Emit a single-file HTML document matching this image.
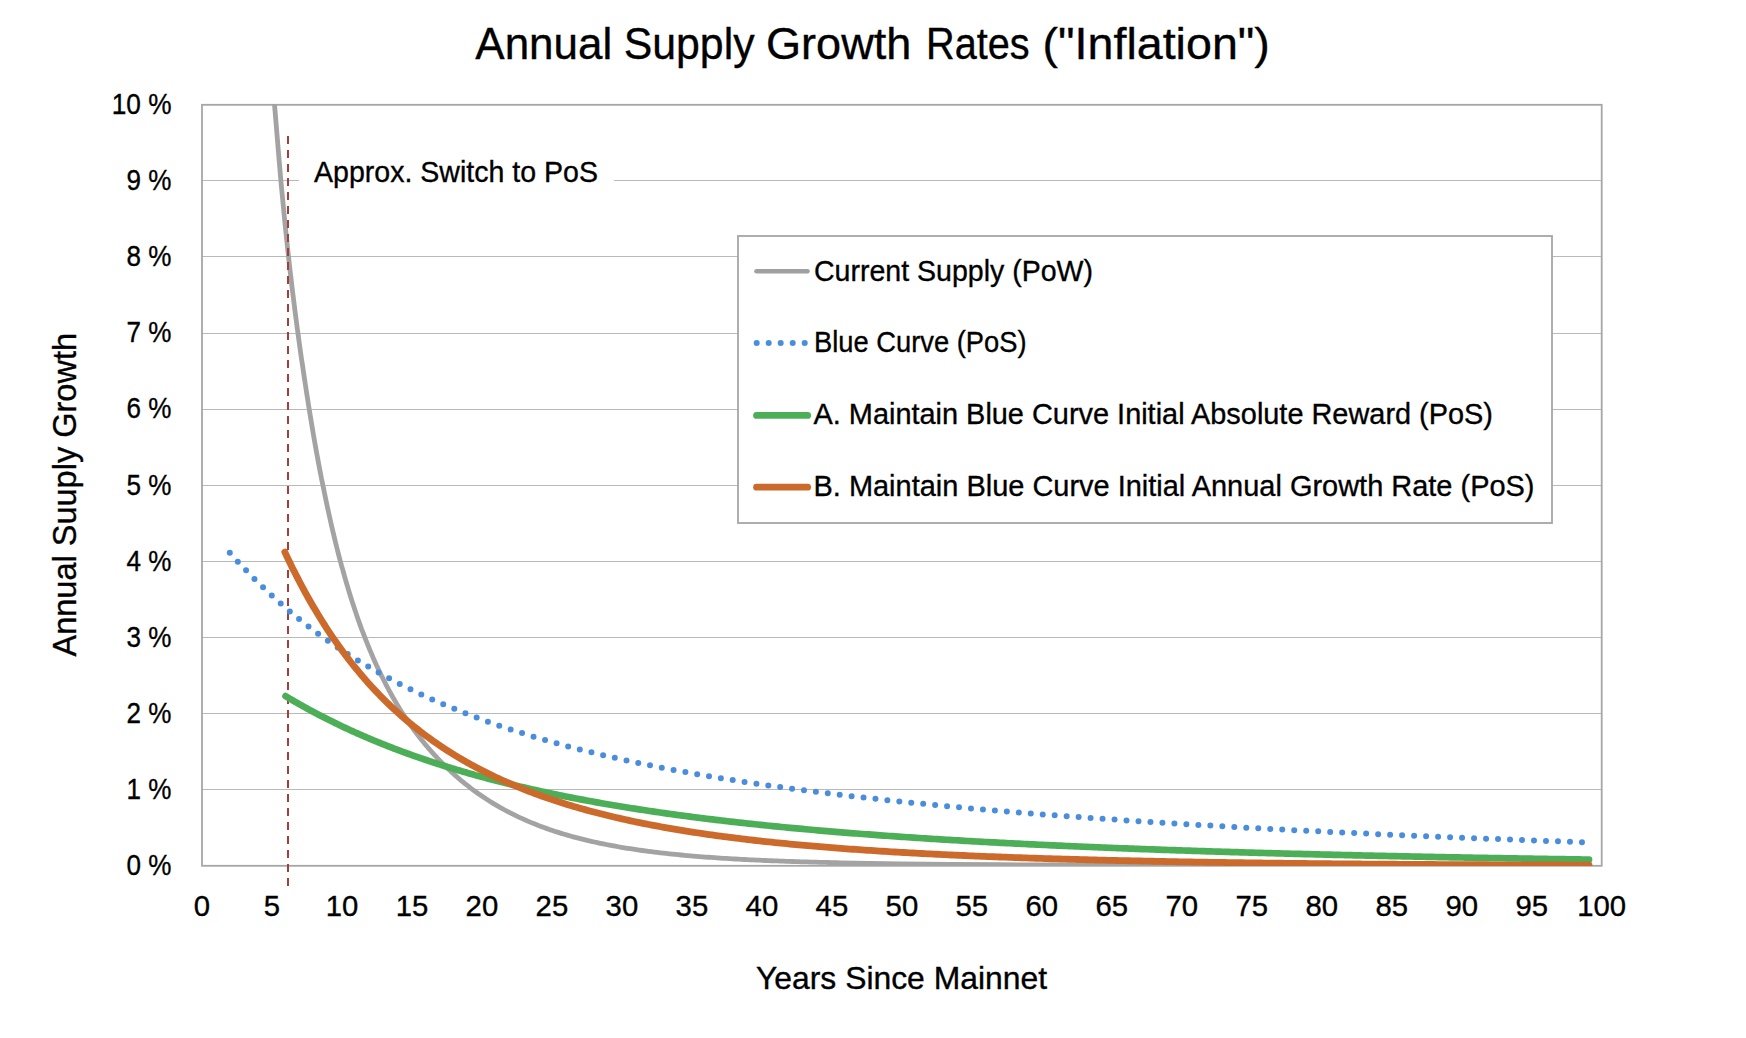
<!DOCTYPE html>
<html><head><meta charset="utf-8"><style>
html,body{margin:0;padding:0;background:#fff;width:1746px;height:1038px;overflow:hidden;position:relative}
</style></head><body>
<svg width="1746" height="1038" viewBox="0 0 1746 1038" style="position:absolute;left:0;top:0"><defs><clipPath id="pa"><rect x="202" y="104" width="1400" height="762"/></clipPath></defs><rect x="0" y="0" width="1746" height="1038" fill="#fff"/><line x1="202.0" y1="789.5" x2="1601.7" y2="789.5" stroke="#b9b9b9" stroke-width="1"/><line x1="202.0" y1="713.5" x2="1601.7" y2="713.5" stroke="#b9b9b9" stroke-width="1"/><line x1="202.0" y1="637.5" x2="1601.7" y2="637.5" stroke="#b9b9b9" stroke-width="1"/><line x1="202.0" y1="561.5" x2="1601.7" y2="561.5" stroke="#b9b9b9" stroke-width="1"/><line x1="202.0" y1="485.5" x2="1601.7" y2="485.5" stroke="#b9b9b9" stroke-width="1"/><line x1="202.0" y1="409.5" x2="1601.7" y2="409.5" stroke="#b9b9b9" stroke-width="1"/><line x1="202.0" y1="333.5" x2="1601.7" y2="333.5" stroke="#b9b9b9" stroke-width="1"/><line x1="202.0" y1="256.5" x2="1601.7" y2="256.5" stroke="#b9b9b9" stroke-width="1"/><line x1="202.0" y1="180.5" x2="1601.7" y2="180.5" stroke="#b9b9b9" stroke-width="1"/><rect x="299" y="150" width="315" height="46" fill="#fff"/><rect x="202.0" y="104.8" width="1399.7" height="761.0" fill="none" stroke="#a6a6a6" stroke-width="1.8"/><g clip-path="url(#pa)" fill="none" stroke-linejoin="round"><path d="M272.3,79.45 L273.3,90.56 L274.3,102.13 L275.3,114.01 L276.3,126.08 L277.3,138.23 L278.3,150.33 L279.3,162.30 L280.3,174.02 L281.3,185.41 L282.4,196.43 L283.4,207.09 L284.4,217.41 L285.4,227.41 L286.4,237.12 L287.4,246.55 L288.4,255.73 L289.4,264.66 L290.4,273.37 L291.4,281.87 L292.4,290.18 L293.4,298.30 L294.4,306.27 L295.4,314.07 L296.4,321.74 L297.4,329.27 L298.4,336.69 L299.4,343.99 L300.4,351.18 L301.4,358.26 L302.5,365.23 L303.5,372.09 L304.5,378.84 L305.5,385.49 L306.5,392.03 L307.5,398.47 L308.5,404.81 L309.5,411.05 L310.5,417.19 L311.5,423.23 L312.5,429.18 L313.5,435.03 L314.5,440.80 L315.5,446.47 L316.5,452.05 L317.5,457.54 L318.5,462.95 L319.5,468.27 L320.5,473.50 L321.5,478.66 L322.6,483.73 L323.6,488.72 L324.6,493.62 L325.6,498.46 L326.6,503.21 L327.6,507.89 L328.6,512.49 L329.6,517.02 L330.6,521.47 L331.6,525.86 L332.6,530.17 L333.6,534.41 L334.6,538.59 L335.6,542.70 L336.6,546.74 L337.6,550.72 L338.6,554.63 L339.6,558.48 L340.6,562.26 L341.6,565.99 L342.7,569.65 L343.7,573.26 L344.7,576.81 L345.7,580.30 L346.7,583.74 L347.7,587.12 L348.7,590.45 L349.7,593.73 L350.7,596.95 L351.7,600.13 L352.7,603.26 L353.7,606.34 L354.7,609.37 L355.7,612.36 L356.7,615.30 L357.7,618.20 L358.7,621.05 L359.7,623.86 L360.7,626.63 L361.7,629.36 L362.8,632.05 L363.8,634.70 L364.8,637.31 L365.8,639.88 L366.8,642.41 L367.8,644.91 L368.8,647.37 L369.8,649.80 L370.8,652.19 L371.8,654.55 L372.8,656.88 L373.8,659.17 L374.8,661.44 L375.8,663.67 L376.8,665.87 L377.8,668.04 L378.8,670.18 L379.8,672.29 L380.8,674.37 L381.8,676.42 L382.9,678.45 L383.9,680.45 L384.9,682.42 L385.9,684.37 L386.9,686.29 L387.9,688.19 L388.9,690.06 L389.9,691.91 L390.9,693.73 L391.9,695.53 L392.9,697.31 L393.9,699.06 L394.9,700.80 L395.9,702.51 L396.9,704.20 L397.9,705.86 L398.9,707.51 L399.9,709.14 L400.9,710.75 L401.9,712.34 L403.0,713.90 L404.0,715.45 L405.0,716.99 L406.0,718.50 L407.0,719.99 L408.0,721.47 L409.0,722.93 L410.0,724.37 L411.0,725.80 L412.0,727.21 L413.0,728.60 L414.0,729.98 L415.0,731.34 L416.0,732.69 L417.0,734.02 L418.0,735.34 L419.0,736.64 L420.0,737.92 L421.0,739.20 L422.0,740.46 L423.1,741.70 L424.1,742.93 L425.1,744.15 L426.1,745.35 L427.1,746.55 L428.1,747.73 L429.1,748.89 L430.1,750.05 L431.1,751.19 L432.1,752.32 L433.1,753.44 L434.1,754.54 L435.1,755.64 L436.1,756.72 L437.1,757.80 L438.1,758.86 L439.1,759.91 L440.1,760.95 L441.1,761.98 L442.1,763.00 L443.2,764.01 L444.2,765.01 L445.2,766.00 L446.2,766.98 L447.2,767.95 L448.2,768.91 L449.2,769.87 L450.2,770.81 L451.2,771.74 L452.2,772.66 L453.2,773.58 L454.2,774.48 L455.2,775.38 L456.2,776.26 L457.2,777.14 L458.2,778.01 L459.2,778.87 L460.2,779.72 L461.2,780.56 L462.2,781.40 L463.3,782.22 L464.3,783.04 L465.3,783.85 L466.3,784.65 L467.3,785.44 L468.3,786.23 L469.3,787.01 L470.3,787.78 L471.3,788.54 L472.3,789.30 L474.3,790.77 L477.3,792.94 L480.3,795.04 L483.3,797.08 L486.3,799.06 L489.3,800.97 L492.3,802.84 L495.3,804.65 L498.3,806.40 L501.3,808.10 L504.3,809.76 L507.3,811.36 L510.3,812.92 L513.3,814.43 L516.3,815.89 L519.3,817.31 L522.3,818.69 L525.3,820.04 L528.3,821.34 L531.3,822.60 L534.3,823.82 L537.3,825.01 L540.3,826.17 L543.3,827.29 L546.3,828.37 L549.3,829.43 L552.3,830.45 L555.3,831.45 L558.3,832.41 L561.3,833.35 L564.3,834.26 L567.3,835.14 L570.3,836.00 L573.3,836.83 L576.3,837.64 L579.3,838.42 L582.3,839.18 L585.3,839.92 L588.3,840.64 L591.3,841.33 L594.3,842.01 L597.3,842.67 L600.3,843.30 L603.3,843.92 L606.3,844.52 L609.3,845.10 L612.3,845.67 L615.3,846.22 L618.3,846.75 L621.3,847.27 L624.3,847.78 L627.3,848.26 L630.3,848.74 L633.3,849.20 L636.3,849.65 L639.3,850.08 L642.3,850.50 L645.3,850.91 L648.3,851.31 L651.3,851.70 L654.3,852.07 L657.3,852.44 L660.3,852.79 L663.3,853.13 L666.3,853.47 L669.3,853.79 L672.3,854.11 L675.3,854.41 L678.3,854.71 L681.3,855.00 L684.3,855.28 L687.3,855.55 L690.3,855.82 L693.3,856.08 L696.3,856.33 L699.3,856.57 L702.3,856.80 L705.3,857.03 L708.3,857.26 L711.3,857.47 L714.3,857.68 L717.3,857.89 L720.3,858.09 L723.3,858.28 L726.3,858.47 L729.3,858.65 L732.3,858.83 L735.3,859.00 L738.3,859.17 L741.3,859.33 L744.3,859.49 L747.3,859.64 L750.3,859.79 L753.3,859.94 L756.3,860.08 L759.3,860.22 L762.3,860.35 L765.3,860.48 L768.3,860.61 L771.3,860.73 L774.3,860.85 L777.3,860.96 L780.3,861.08 L783.3,861.19 L786.3,861.29 L789.3,861.40 L792.3,861.50 L795.3,861.60 L798.3,861.69 L801.3,861.78 L804.3,861.88 L807.3,861.96 L810.3,862.05 L813.3,862.13 L816.3,862.21 L819.3,862.29 L822.3,862.37 L825.3,862.44 L828.3,862.52 L831.3,862.59 L834.3,862.65 L837.3,862.72 L840.0,862.78 L900,864.00 L950,864.44 L1000,864.74 L1050,864.94 L1100,865.09 L1150,865.18 L1200,865.25 L1250,865.30 L1300,865.33 L1350,865.35 L1400,865.37 L1450,865.38 L1500,865.38 L1550,865.39 L1590,865.39" stroke="#a3a3a3" stroke-width="4.8" stroke-linecap="round"/></g><line x1="288" y1="136" x2="288" y2="886" stroke="#a83c38" stroke-width="2" stroke-dasharray="8 6"/><g clip-path="url(#pa)" fill="none" stroke-linejoin="round"><path d="M229.8,552.72 L230.8,553.85 L231.8,554.98 L232.8,556.10 L233.8,557.22 L234.8,558.33 L235.8,559.44 L236.8,560.54 L237.8,561.63 L238.8,562.72 L239.9,563.80 L240.9,564.88 L241.9,565.95 L242.9,567.02 L243.9,568.08 L244.9,569.14 L245.9,570.19 L246.9,571.23 L247.9,572.27 L248.9,573.31 L249.9,574.34 L250.9,575.36 L251.9,576.38 L252.9,577.40 L253.9,578.41 L254.9,579.41 L255.9,580.41 L256.9,581.40 L257.9,582.39 L258.9,583.38 L260.0,584.36 L261.0,585.33 L262.0,586.30 L263.0,587.27 L264.0,588.23 L265.0,589.19 L266.0,590.14 L267.0,591.08 L268.0,592.03 L269.0,592.96 L270.0,593.90 L271.0,594.82 L272.0,595.75 L273.0,596.67 L274.0,597.58 L275.0,598.49 L276.0,599.40 L277.0,600.30 L278.0,601.20 L279.0,602.09 L280.1,602.98 L281.1,603.86 L282.1,604.74 L283.1,605.62 L284.1,606.49 L285.1,607.35 L286.1,608.22 L287.1,609.08 L288.1,609.93 L289.1,610.78 L290.1,611.63 L291.1,612.47 L292.1,613.31 L293.1,614.14 L294.1,614.97 L295.1,615.80 L296.1,616.62 L297.1,617.44 L298.1,618.25 L299.1,619.06 L300.2,619.87 L301.2,620.67 L302.2,621.47 L303.2,622.27 L304.2,623.06 L305.2,623.85 L306.2,624.63 L307.2,625.41 L308.2,626.19 L309.2,626.96 L310.2,627.73 L311.2,628.50 L312.2,629.26 L313.2,630.02 L314.2,630.78 L315.2,631.53 L316.2,632.28 L317.2,633.02 L318.2,633.76 L319.2,634.50 L320.3,635.23 L321.3,635.96 L322.3,636.69 L323.3,637.42 L324.3,638.14 L325.3,638.85 L326.3,639.57 L327.3,640.28 L328.3,640.99 L329.3,641.69 L330.3,642.39 L331.3,643.09 L332.3,643.78 L333.3,644.47 L334.3,645.16 L335.3,645.85 L336.3,646.53 L337.3,647.21 L338.3,647.88 L339.3,648.56 L340.4,649.23 L341.4,649.89 L342.4,650.56 L343.4,651.22 L344.4,651.87 L345.4,652.53 L346.4,653.18 L347.4,653.83 L348.4,654.47 L349.4,655.12 L350.4,655.76 L351.4,656.39 L352.4,657.03 L353.4,657.66 L354.4,658.29 L355.4,658.91 L356.4,659.54 L357.4,660.16 L358.4,660.77 L359.4,661.39 L360.5,662.00 L361.5,662.61 L362.5,663.21 L363.5,663.82 L364.5,664.42 L365.5,665.02 L366.5,665.61 L367.5,666.20 L368.5,666.79 L369.5,667.38 L370.5,667.97 L371.5,668.55 L372.5,669.13 L373.5,669.71 L374.5,670.28 L375.5,670.85 L376.5,671.42 L377.5,671.99 L378.5,672.56 L379.5,673.12 L380.6,673.68 L381.6,674.23 L382.6,674.79 L383.6,675.34 L384.6,675.89 L385.6,676.44 L386.6,676.99 L387.6,677.53 L388.6,678.07 L389.6,678.61 L390.6,679.14 L391.6,679.68 L392.6,680.21 L393.6,680.74 L394.6,681.26 L395.6,681.79 L396.6,682.31 L397.6,682.83 L398.6,683.35 L399.6,683.86 L400.7,684.38 L401.7,684.89 L402.7,685.40 L403.7,685.90 L404.7,686.41 L405.7,686.91 L406.7,687.41 L407.7,687.91 L408.7,688.40 L409.7,688.90 L410.7,689.39 L411.7,689.88 L412.7,690.37 L413.7,690.85 L414.7,691.34 L415.7,691.82 L416.7,692.30 L417.7,692.77 L418.7,693.25 L419.7,693.72 L420.8,694.20 L421.8,694.66 L422.8,695.13 L423.8,695.60 L424.8,696.06 L425.8,696.52 L426.8,696.98 L427.8,697.44 L428.8,697.90 L429.8,698.35 L431.8,699.25 L434.8,700.58 L437.8,701.90 L440.8,703.20 L443.8,704.48 L446.8,705.75 L449.8,707.01 L452.8,708.25 L455.8,709.47 L458.8,710.68 L461.8,711.87 L464.8,713.05 L467.8,714.22 L470.8,715.37 L473.8,716.51 L476.8,717.64 L479.8,718.75 L482.8,719.85 L485.8,720.93 L488.8,722.01 L491.8,723.07 L494.8,724.12 L497.8,725.16 L500.8,726.18 L503.8,727.19 L506.8,728.20 L509.8,729.19 L512.8,730.17 L515.8,731.13 L518.8,732.09 L521.8,733.04 L524.8,733.98 L527.8,734.90 L530.8,735.82 L533.8,736.72 L536.8,737.62 L539.8,738.50 L542.8,739.38 L545.8,740.25 L548.8,741.10 L551.8,741.95 L554.8,742.79 L557.8,743.62 L560.8,744.44 L563.8,745.25 L566.8,746.06 L569.8,746.85 L572.8,747.64 L575.8,748.42 L578.8,749.19 L581.8,749.95 L584.8,750.70 L587.8,751.45 L590.8,752.19 L593.8,752.92 L596.8,753.64 L599.8,754.36 L602.8,755.07 L605.8,755.77 L608.8,756.47 L611.8,757.16 L614.8,757.84 L617.8,758.51 L620.8,759.18 L623.8,759.84 L626.8,760.49 L629.8,761.14 L632.8,761.78 L635.8,762.42 L638.8,763.05 L641.8,763.67 L644.8,764.29 L647.8,764.90 L650.8,765.51 L653.8,766.11 L656.8,766.70 L659.8,767.29 L662.8,767.88 L665.8,768.45 L668.8,769.03 L671.8,769.59 L674.8,770.16 L677.8,770.71 L680.8,771.26 L683.8,771.81 L686.8,772.35 L689.8,772.89 L692.8,773.42 L695.8,773.95 L698.8,774.47 L701.8,774.99 L704.8,775.50 L707.8,776.01 L710.8,776.52 L713.8,777.02 L716.8,777.52 L719.8,778.01 L722.8,778.49 L725.8,778.98 L728.8,779.46 L731.8,779.93 L734.8,780.40 L737.8,780.87 L740.8,781.34 L743.8,781.80 L746.8,782.25 L749.8,782.70 L752.8,783.15 L755.8,783.60 L758.8,784.04 L761.8,784.48 L764.8,784.91 L767.8,785.34 L770.8,785.77 L773.8,786.19 L776.8,786.62 L779.8,787.03 L782.8,787.45 L785.8,787.86 L788.8,788.27 L791.8,788.67 L794.8,789.07 L797.8,789.47 L800.8,789.87 L803.8,790.26 L806.8,790.65 L809.8,791.04 L812.8,791.43 L815.8,791.81 L818.8,792.19 L821.8,792.56 L824.8,792.94 L827.8,793.31 L830.8,793.68 L833.8,794.04 L836.8,794.41 L839.8,794.77 L842.8,795.13 L845.8,795.48 L848.8,795.83 L851.8,796.19 L854.8,796.53 L857.8,796.88 L860.8,797.22 L863.8,797.57 L866.8,797.91 L869.8,798.24 L872.8,798.58 L875.8,798.91 L878.8,799.24 L881.8,799.57 L884.8,799.89 L887.8,800.22 L890.8,800.54 L893.8,800.86 L896.8,801.17 L899.8,801.49 L902.8,801.80 L905.8,802.11 L908.8,802.42 L911.8,802.73 L914.8,803.03 L917.8,803.34 L920.8,803.64 L923.8,803.93 L926.8,804.23 L929.8,804.53 L932.8,804.82 L935.8,805.11 L938.8,805.40 L941.8,805.69 L944.8,805.97 L947.8,806.26 L950.8,806.54 L953.8,806.82 L956.8,807.10 L959.8,807.38 L962.8,807.65 L965.8,807.92 L968.8,808.20 L971.8,808.47 L974.8,808.73 L977.8,809.00 L980.8,809.27 L983.8,809.53 L986.8,809.79 L989.8,810.05 L992.8,810.31 L995.8,810.57 L998.8,810.82 L1001.8,811.08 L1004.8,811.33 L1007.8,811.58 L1010.8,811.83 L1013.8,812.08 L1016.8,812.32 L1019.8,812.57 L1022.8,812.81 L1025.8,813.05 L1028.8,813.29 L1031.8,813.53 L1034.8,813.77 L1037.8,814.01 L1040.8,814.24 L1043.8,814.47 L1046.8,814.71 L1049.8,814.94 L1052.8,815.17 L1055.8,815.40 L1058.8,815.62 L1061.8,815.85 L1064.8,816.07 L1067.8,816.30 L1070.8,816.52 L1073.8,816.74 L1076.8,816.96 L1079.8,817.18 L1082.8,817.39 L1085.8,817.61 L1088.8,817.82 L1091.8,818.04 L1094.8,818.25 L1097.8,818.46 L1100.8,818.67 L1103.8,818.88 L1106.8,819.09 L1109.8,819.29 L1112.8,819.50 L1115.8,819.70 L1118.8,819.90 L1121.8,820.11 L1124.8,820.31 L1127.8,820.51 L1130.8,820.71 L1133.8,820.90 L1136.8,821.10 L1139.8,821.30 L1142.8,821.49 L1145.8,821.68 L1148.8,821.88 L1151.8,822.07 L1154.8,822.26 L1157.8,822.45 L1160.8,822.64 L1163.8,822.82 L1166.8,823.01 L1169.8,823.20 L1172.8,823.38 L1175.8,823.57 L1178.8,823.75 L1181.8,823.93 L1184.8,824.11 L1187.8,824.29 L1190.8,824.47 L1193.8,824.65 L1196.8,824.83 L1199.8,825.00 L1202.8,825.18 L1205.8,825.35 L1208.8,825.53 L1211.8,825.70 L1214.8,825.87 L1217.8,826.04 L1220.8,826.21 L1223.8,826.38 L1226.8,826.55 L1229.8,826.72 L1232.8,826.89 L1235.8,827.06 L1238.8,827.22 L1241.8,827.39 L1244.8,827.55 L1247.8,827.71 L1250.8,827.88 L1253.8,828.04 L1256.8,828.20 L1259.8,828.36 L1262.8,828.52 L1265.8,828.68 L1268.8,828.84 L1271.8,828.99 L1274.8,829.15 L1277.8,829.31 L1280.8,829.46 L1283.8,829.62 L1286.8,829.77 L1289.8,829.92 L1292.8,830.07 L1295.8,830.23 L1298.8,830.38 L1301.8,830.53 L1304.8,830.68 L1307.8,830.83 L1310.8,830.97 L1313.8,831.12 L1316.8,831.27 L1319.8,831.42 L1322.8,831.56 L1325.8,831.71 L1328.8,831.85 L1331.8,832.00 L1334.8,832.14 L1337.8,832.28 L1340.8,832.42 L1343.8,832.57 L1346.8,832.71 L1349.8,832.85 L1352.8,832.99 L1355.8,833.12 L1358.8,833.26 L1361.8,833.40 L1364.8,833.54 L1367.8,833.68 L1370.8,833.81 L1373.8,833.95 L1376.8,834.08 L1379.8,834.22 L1382.8,834.35 L1385.8,834.48 L1388.8,834.62 L1391.8,834.75 L1394.8,834.88 L1397.8,835.01 L1400.8,835.14 L1403.8,835.27 L1406.8,835.40 L1409.8,835.53 L1412.8,835.66 L1415.8,835.79 L1418.8,835.92 L1421.8,836.04 L1424.8,836.17 L1427.8,836.30 L1430.8,836.42 L1433.8,836.55 L1436.8,836.67 L1439.8,836.80 L1442.8,836.92 L1445.8,837.04 L1448.8,837.17 L1451.8,837.29 L1454.8,837.41 L1457.8,837.53 L1460.8,837.65 L1463.8,837.77 L1466.8,837.89 L1469.8,838.01 L1472.8,838.13 L1475.8,838.25 L1478.8,838.37 L1481.8,838.48 L1484.8,838.60 L1487.8,838.72 L1490.8,838.84 L1493.8,838.95 L1496.8,839.07 L1499.8,839.18 L1502.8,839.30 L1505.8,839.41 L1508.8,839.52 L1511.8,839.64 L1514.8,839.75 L1517.8,839.86 L1520.8,839.98 L1523.8,840.09 L1526.8,840.20 L1529.8,840.31 L1532.8,840.42 L1535.8,840.53 L1538.8,840.64 L1541.8,840.75 L1544.8,840.86 L1547.8,840.97 L1550.8,841.08 L1553.8,841.18 L1556.8,841.29 L1559.8,841.40 L1562.8,841.51 L1565.8,841.61 L1568.8,841.72 L1571.8,841.82 L1574.8,841.93 L1577.8,842.03 L1580.8,842.14 L1583.0,842.22" stroke="#4a8ddc" stroke-width="6" stroke-linecap="round" stroke-dasharray="0 12"/><path d="M285.5,696.10 L286.5,696.70 L287.5,697.31 L288.5,697.90 L289.5,698.50 L290.5,699.09 L291.5,699.69 L292.5,700.27 L293.5,700.86 L294.5,701.44 L295.6,702.02 L296.6,702.60 L297.6,703.18 L298.6,703.75 L299.6,704.32 L300.6,704.89 L301.6,705.46 L302.6,706.02 L303.6,706.58 L304.6,707.14 L305.6,707.70 L306.6,708.25 L307.6,708.80 L308.6,709.35 L309.6,709.90 L310.6,710.44 L311.6,710.99 L312.6,711.52 L313.6,712.06 L314.6,712.60 L315.7,713.13 L316.7,713.66 L317.7,714.19 L318.7,714.72 L319.7,715.24 L320.7,715.76 L321.7,716.28 L322.7,716.80 L323.7,717.31 L324.7,717.83 L325.7,718.34 L326.7,718.85 L327.7,719.35 L328.7,719.86 L329.7,720.36 L330.7,720.86 L331.7,721.36 L332.7,721.85 L333.7,722.35 L334.7,722.84 L335.8,723.33 L336.8,723.82 L337.8,724.30 L338.8,724.78 L339.8,725.27 L340.8,725.74 L341.8,726.22 L342.8,726.70 L343.8,727.17 L344.8,727.64 L345.8,728.11 L346.8,728.58 L347.8,729.04 L348.8,729.51 L349.8,729.97 L350.8,730.43 L351.8,730.89 L352.8,731.34 L353.8,731.80 L354.8,732.25 L355.9,732.70 L356.9,733.15 L357.9,733.60 L358.9,734.04 L359.9,734.48 L360.9,734.92 L361.9,735.36 L362.9,735.80 L363.9,736.24 L364.9,736.67 L365.9,737.10 L366.9,737.53 L367.9,737.96 L368.9,738.39 L369.9,738.81 L370.9,739.24 L371.9,739.66 L372.9,740.08 L373.9,740.49 L374.9,740.91 L376.0,741.33 L377.0,741.74 L378.0,742.15 L379.0,742.56 L380.0,742.97 L381.0,743.37 L382.0,743.78 L383.0,744.18 L384.0,744.58 L385.0,744.98 L386.0,745.38 L387.0,745.78 L388.0,746.17 L389.0,746.56 L390.0,746.96 L391.0,747.35 L392.0,747.73 L393.0,748.12 L394.0,748.51 L395.0,748.89 L396.1,749.27 L397.1,749.65 L398.1,750.03 L399.1,750.41 L400.1,750.79 L401.1,751.16 L402.1,751.53 L403.1,751.91 L404.1,752.28 L405.1,752.64 L406.1,753.01 L407.1,753.38 L408.1,753.74 L409.1,754.10 L410.1,754.47 L411.1,754.83 L412.1,755.18 L413.1,755.54 L414.1,755.90 L415.1,756.25 L416.2,756.60 L417.2,756.95 L418.2,757.30 L419.2,757.65 L420.2,758.00 L421.2,758.35 L422.2,758.69 L423.2,759.03 L424.2,759.38 L425.2,759.72 L426.2,760.05 L427.2,760.39 L428.2,760.73 L429.2,761.06 L430.2,761.40 L431.2,761.73 L432.2,762.06 L433.2,762.39 L434.2,762.72 L435.2,763.05 L436.3,763.37 L437.3,763.70 L438.3,764.02 L439.3,764.34 L440.3,764.66 L441.3,764.98 L442.3,765.30 L443.3,765.62 L444.3,765.93 L445.3,766.25 L446.3,766.56 L447.3,766.87 L448.3,767.18 L449.3,767.49 L450.3,767.80 L451.3,768.11 L452.3,768.42 L453.3,768.72 L454.3,769.03 L455.3,769.33 L456.4,769.63 L457.4,769.93 L458.4,770.23 L459.4,770.53 L460.4,770.82 L461.4,771.12 L462.4,771.41 L463.4,771.71 L464.4,772.00 L465.4,772.29 L466.4,772.58 L467.4,772.87 L468.4,773.16 L469.4,773.44 L470.4,773.73 L471.4,774.01 L472.4,774.30 L473.4,774.58 L474.4,774.86 L475.4,775.14 L476.5,775.42 L477.5,775.70 L478.5,775.98 L479.5,776.25 L480.5,776.53 L481.5,776.80 L482.5,777.07 L483.5,777.34 L484.5,777.62 L485.5,777.88 L487.5,778.42 L490.5,779.21 L493.5,780.00 L496.5,780.77 L499.5,781.54 L502.5,782.30 L505.5,783.05 L508.5,783.79 L511.5,784.52 L514.5,785.24 L517.5,785.96 L520.5,786.67 L523.5,787.37 L526.5,788.07 L529.5,788.75 L532.5,789.43 L535.5,790.10 L538.5,790.77 L541.5,791.42 L544.5,792.07 L547.5,792.71 L550.5,793.35 L553.5,793.98 L556.5,794.60 L559.5,795.22 L562.5,795.82 L565.5,796.43 L568.5,797.02 L571.5,797.61 L574.5,798.20 L577.5,798.77 L580.5,799.34 L583.5,799.91 L586.5,800.47 L589.5,801.02 L592.5,801.57 L595.5,802.11 L598.5,802.65 L601.5,803.18 L604.5,803.70 L607.5,804.22 L610.5,804.73 L613.5,805.24 L616.5,805.75 L619.5,806.25 L622.5,806.74 L625.5,807.23 L628.5,807.71 L631.5,808.19 L634.5,808.66 L637.5,809.13 L640.5,809.59 L643.5,810.05 L646.5,810.51 L649.5,810.96 L652.5,811.40 L655.5,811.84 L658.5,812.28 L661.5,812.71 L664.5,813.14 L667.5,813.57 L670.5,813.98 L673.5,814.40 L676.5,814.81 L679.5,815.22 L682.5,815.62 L685.5,816.02 L688.5,816.42 L691.5,816.81 L694.5,817.20 L697.5,817.58 L700.5,817.96 L703.5,818.34 L706.5,818.71 L709.5,819.08 L712.5,819.44 L715.5,819.81 L718.5,820.17 L721.5,820.52 L724.5,820.87 L727.5,821.22 L730.5,821.57 L733.5,821.91 L736.5,822.25 L739.5,822.58 L742.5,822.92 L745.5,823.24 L748.5,823.57 L751.5,823.89 L754.5,824.21 L757.5,824.53 L760.5,824.85 L763.5,825.16 L766.5,825.47 L769.5,825.77 L772.5,826.07 L775.5,826.37 L778.5,826.67 L781.5,826.97 L784.5,827.26 L787.5,827.55 L790.5,827.83 L793.5,828.12 L796.5,828.40 L799.5,828.68 L802.5,828.95 L805.5,829.23 L808.5,829.50 L811.5,829.77 L814.5,830.03 L817.5,830.30 L820.5,830.56 L823.5,830.82 L826.5,831.08 L829.5,831.33 L832.5,831.58 L835.5,831.83 L838.5,832.08 L841.5,832.33 L844.5,832.57 L847.5,832.81 L850.5,833.05 L853.5,833.29 L856.5,833.53 L859.5,833.76 L862.5,833.99 L865.5,834.22 L868.5,834.45 L871.5,834.67 L874.5,834.90 L877.5,835.12 L880.5,835.34 L883.5,835.56 L886.5,835.77 L889.5,835.99 L892.5,836.20 L895.5,836.41 L898.5,836.62 L901.5,836.83 L904.5,837.03 L907.5,837.24 L910.5,837.44 L913.5,837.64 L916.5,837.84 L919.5,838.03 L922.5,838.23 L925.5,838.42 L928.5,838.62 L931.5,838.81 L934.5,839.00 L937.5,839.18 L940.5,839.37 L943.5,839.55 L946.5,839.74 L949.5,839.92 L952.5,840.10 L955.5,840.28 L958.5,840.45 L961.5,840.63 L964.5,840.80 L967.5,840.98 L970.5,841.15 L973.5,841.32 L976.5,841.49 L979.5,841.65 L982.5,841.82 L985.5,841.99 L988.5,842.15 L991.5,842.31 L994.5,842.47 L997.5,842.63 L1000.5,842.79 L1003.5,842.95 L1006.5,843.10 L1009.5,843.26 L1012.5,843.41 L1015.5,843.56 L1018.5,843.72 L1021.5,843.87 L1024.5,844.01 L1027.5,844.16 L1030.5,844.31 L1033.5,844.45 L1036.5,844.60 L1039.5,844.74 L1042.5,844.88 L1045.5,845.02 L1048.5,845.16 L1051.5,845.30 L1054.5,845.44 L1057.5,845.58 L1060.5,845.71 L1063.5,845.85 L1066.5,845.98 L1069.5,846.12 L1072.5,846.25 L1075.5,846.38 L1078.5,846.51 L1081.5,846.64 L1084.5,846.77 L1087.5,846.89 L1090.5,847.02 L1093.5,847.14 L1096.5,847.27 L1099.5,847.39 L1102.5,847.51 L1105.5,847.64 L1108.5,847.76 L1111.5,847.88 L1114.5,848.00 L1117.5,848.11 L1120.5,848.23 L1123.5,848.35 L1126.5,848.46 L1129.5,848.58 L1132.5,848.69 L1135.5,848.80 L1138.5,848.92 L1141.5,849.03 L1144.5,849.14 L1147.5,849.25 L1150.5,849.36 L1153.5,849.47 L1156.5,849.57 L1159.5,849.68 L1162.5,849.79 L1165.5,849.89 L1168.5,850.00 L1171.5,850.10 L1174.5,850.20 L1177.5,850.31 L1180.5,850.41 L1183.5,850.51 L1186.5,850.61 L1189.5,850.71 L1192.5,850.81 L1195.5,850.91 L1198.5,851.01 L1201.5,851.10 L1204.5,851.20 L1207.5,851.29 L1210.5,851.39 L1213.5,851.48 L1216.5,851.58 L1219.5,851.67 L1222.5,851.76 L1225.5,851.85 L1228.5,851.95 L1231.5,852.04 L1234.5,852.13 L1237.5,852.22 L1240.5,852.30 L1243.5,852.39 L1246.5,852.48 L1249.5,852.57 L1252.5,852.65 L1255.5,852.74 L1258.5,852.83 L1261.5,852.91 L1264.5,852.99 L1267.5,853.08 L1270.5,853.16 L1273.5,853.24 L1276.5,853.33 L1279.5,853.41 L1282.5,853.49 L1285.5,853.57 L1288.5,853.65 L1291.5,853.73 L1294.5,853.81 L1297.5,853.89 L1300.5,853.96 L1303.5,854.04 L1306.5,854.12 L1309.5,854.19 L1312.5,854.27 L1315.5,854.34 L1318.5,854.42 L1321.5,854.49 L1324.5,854.57 L1327.5,854.64 L1330.5,854.71 L1333.5,854.79 L1336.5,854.86 L1339.5,854.93 L1342.5,855.00 L1345.5,855.07 L1348.5,855.14 L1351.5,855.21 L1354.5,855.28 L1357.5,855.35 L1360.5,855.42 L1363.5,855.49 L1366.5,855.55 L1369.5,855.62 L1372.5,855.69 L1375.5,855.76 L1378.5,855.82 L1381.5,855.89 L1384.5,855.95 L1387.5,856.02 L1390.5,856.08 L1393.5,856.15 L1396.5,856.21 L1399.5,856.27 L1402.5,856.33 L1405.5,856.40 L1408.5,856.46 L1411.5,856.52 L1414.5,856.58 L1417.5,856.64 L1420.5,856.70 L1423.5,856.76 L1426.5,856.82 L1429.5,856.88 L1432.5,856.94 L1435.5,857.00 L1438.5,857.06 L1441.5,857.12 L1444.5,857.17 L1447.5,857.23 L1450.5,857.29 L1453.5,857.34 L1456.5,857.40 L1459.5,857.46 L1462.5,857.51 L1465.5,857.57 L1468.5,857.62 L1471.5,857.68 L1474.5,857.73 L1477.5,857.78 L1480.5,857.84 L1483.5,857.89 L1486.5,857.94 L1489.5,858.00 L1492.5,858.05 L1495.5,858.10 L1498.5,858.15 L1501.5,858.20 L1504.5,858.25 L1507.5,858.30 L1510.5,858.35 L1513.5,858.40 L1516.5,858.45 L1519.5,858.50 L1522.5,858.55 L1525.5,858.60 L1528.5,858.65 L1531.5,858.70 L1534.5,858.75 L1537.5,858.79 L1540.5,858.84 L1543.5,858.89 L1546.5,858.94 L1549.5,858.98 L1552.5,859.03 L1555.5,859.07 L1558.5,859.12 L1561.5,859.17 L1564.5,859.21 L1567.5,859.26 L1570.5,859.30 L1573.5,859.34 L1576.5,859.39 L1579.5,859.43 L1582.5,859.48 L1585.5,859.52 L1588.5,859.56 L1589.0,859.57" stroke="#4caf57" stroke-width="6.7" stroke-linecap="round"/><path d="M284.8,551.97 L285.8,554.12 L286.8,556.25 L287.8,558.37 L288.8,560.47 L289.8,562.55 L290.8,564.61 L291.8,566.66 L292.8,568.69 L293.8,570.70 L294.9,572.70 L295.9,574.68 L296.9,576.65 L297.9,578.60 L298.9,580.53 L299.9,582.45 L300.9,584.35 L301.9,586.23 L302.9,588.10 L303.9,589.96 L304.9,591.80 L305.9,593.63 L306.9,595.44 L307.9,597.24 L308.9,599.02 L309.9,600.79 L310.9,602.54 L311.9,604.28 L312.9,606.01 L313.9,607.72 L315.0,609.42 L316.0,611.10 L317.0,612.78 L318.0,614.43 L319.0,616.08 L320.0,617.71 L321.0,619.33 L322.0,620.94 L323.0,622.53 L324.0,624.12 L325.0,625.68 L326.0,627.24 L327.0,628.79 L328.0,630.32 L329.0,631.84 L330.0,633.35 L331.0,634.85 L332.0,636.33 L333.0,637.81 L334.0,639.27 L335.1,640.72 L336.1,642.16 L337.1,643.59 L338.1,645.01 L339.1,646.41 L340.1,647.81 L341.1,649.19 L342.1,650.57 L343.1,651.93 L344.1,653.29 L345.1,654.63 L346.1,655.96 L347.1,657.29 L348.1,658.60 L349.1,659.90 L350.1,661.20 L351.1,662.48 L352.1,663.75 L353.1,665.02 L354.1,666.27 L355.2,667.52 L356.2,668.75 L357.2,669.98 L358.2,671.19 L359.2,672.40 L360.2,673.60 L361.2,674.79 L362.2,675.97 L363.2,677.14 L364.2,678.31 L365.2,679.46 L366.2,680.61 L367.2,681.75 L368.2,682.88 L369.2,684.00 L370.2,685.11 L371.2,686.21 L372.2,687.31 L373.2,688.40 L374.2,689.48 L375.3,690.55 L376.3,691.61 L377.3,692.67 L378.3,693.72 L379.3,694.76 L380.3,695.79 L381.3,696.82 L382.3,697.84 L383.3,698.85 L384.3,699.85 L385.3,700.85 L386.3,701.84 L387.3,702.82 L388.3,703.80 L389.3,704.77 L390.3,705.73 L391.3,706.68 L392.3,707.63 L393.3,708.57 L394.3,709.50 L395.4,710.43 L396.4,711.35 L397.4,712.26 L398.4,713.17 L399.4,714.07 L400.4,714.97 L401.4,715.86 L402.4,716.74 L403.4,717.61 L404.4,718.48 L405.4,719.35 L406.4,720.20 L407.4,721.05 L408.4,721.90 L409.4,722.74 L410.4,723.57 L411.4,724.40 L412.4,725.22 L413.4,726.04 L414.4,726.85 L415.5,727.65 L416.5,728.45 L417.5,729.25 L418.5,730.03 L419.5,730.82 L420.5,731.59 L421.5,732.37 L422.5,733.13 L423.5,733.89 L424.5,734.65 L425.5,735.40 L426.5,736.15 L427.5,736.89 L428.5,737.62 L429.5,738.35 L430.5,739.08 L431.5,739.80 L432.5,740.52 L433.5,741.23 L434.5,741.93 L435.6,742.63 L436.6,743.33 L437.6,744.02 L438.6,744.71 L439.6,745.39 L440.6,746.07 L441.6,746.74 L442.6,747.41 L443.6,748.08 L444.6,748.74 L445.6,749.39 L446.6,750.04 L447.6,750.69 L448.6,751.33 L449.6,751.97 L450.6,752.60 L451.6,753.23 L452.6,753.86 L453.6,754.48 L454.6,755.10 L455.7,755.71 L456.7,756.32 L457.7,756.92 L458.7,757.53 L459.7,758.12 L460.7,758.72 L461.7,759.30 L462.7,759.89 L463.7,760.47 L464.7,761.05 L465.7,761.62 L466.7,762.19 L467.7,762.76 L468.7,763.32 L469.7,763.88 L470.7,764.44 L471.7,764.99 L472.7,765.54 L473.7,766.09 L474.7,766.63 L475.8,767.17 L476.8,767.70 L477.8,768.23 L478.8,768.76 L479.8,769.28 L480.8,769.80 L481.8,770.32 L482.8,770.84 L483.8,771.35 L484.8,771.86 L486.8,772.86 L489.8,774.34 L492.8,775.79 L495.8,777.21 L498.8,778.61 L501.8,779.98 L504.8,781.33 L507.8,782.65 L510.8,783.94 L513.8,785.22 L516.8,786.47 L519.8,787.70 L522.8,788.90 L525.8,790.09 L528.8,791.25 L531.8,792.39 L534.8,793.52 L537.8,794.62 L540.8,795.70 L543.8,796.77 L546.8,797.81 L549.8,798.84 L552.8,799.85 L555.8,800.84 L558.8,801.81 L561.8,802.77 L564.8,803.71 L567.8,804.63 L570.8,805.54 L573.8,806.44 L576.8,807.31 L579.8,808.18 L582.8,809.02 L585.8,809.86 L588.8,810.68 L591.8,811.48 L594.8,812.27 L597.8,813.05 L600.8,813.82 L603.8,814.57 L606.8,815.31 L609.8,816.04 L612.8,816.76 L615.8,817.46 L618.8,818.16 L621.8,818.84 L624.8,819.51 L627.8,820.17 L630.8,820.82 L633.8,821.46 L636.8,822.08 L639.8,822.70 L642.8,823.31 L645.8,823.91 L648.8,824.50 L651.8,825.08 L654.8,825.65 L657.8,826.21 L660.8,826.76 L663.8,827.30 L666.8,827.84 L669.8,828.37 L672.8,828.88 L675.8,829.39 L678.8,829.90 L681.8,830.39 L684.8,830.88 L687.8,831.36 L690.8,831.83 L693.8,832.29 L696.8,832.75 L699.8,833.20 L702.8,833.65 L705.8,834.08 L708.8,834.51 L711.8,834.94 L714.8,835.36 L717.8,835.77 L720.8,836.17 L723.8,836.57 L726.8,836.97 L729.8,837.35 L732.8,837.73 L735.8,838.11 L738.8,838.48 L741.8,838.85 L744.8,839.21 L747.8,839.56 L750.8,839.91 L753.8,840.25 L756.8,840.59 L759.8,840.93 L762.8,841.26 L765.8,841.58 L768.8,841.90 L771.8,842.22 L774.8,842.53 L777.8,842.83 L780.8,843.14 L783.8,843.43 L786.8,843.73 L789.8,844.02 L792.8,844.30 L795.8,844.58 L798.8,844.86 L801.8,845.13 L804.8,845.40 L807.8,845.67 L810.8,845.93 L813.8,846.19 L816.8,846.45 L819.8,846.70 L822.8,846.95 L825.8,847.19 L828.8,847.43 L831.8,847.67 L834.8,847.90 L837.8,848.13 L840.8,848.36 L843.8,848.59 L846.8,848.81 L849.8,849.03 L852.8,849.25 L855.8,849.46 L858.8,849.67 L861.8,849.88 L864.8,850.08 L867.8,850.28 L870.8,850.48 L873.8,850.68 L876.8,850.87 L879.8,851.07 L882.8,851.25 L885.8,851.44 L888.8,851.63 L891.8,851.81 L894.8,851.99 L897.8,852.16 L900.8,852.34 L903.8,852.51 L906.8,852.68 L909.8,852.85 L912.8,853.01 L915.8,853.18 L918.8,853.34 L921.8,853.50 L924.8,853.65 L927.8,853.81 L930.8,853.96 L933.8,854.11 L936.8,854.26 L939.8,854.41 L942.8,854.56 L945.8,854.70 L948.8,854.84 L951.8,854.98 L954.8,855.12 L957.8,855.26 L960.8,855.39 L963.8,855.52 L966.8,855.65 L969.8,855.78 L972.8,855.91 L975.8,856.04 L978.8,856.16 L981.8,856.29 L984.8,856.41 L987.8,856.53 L990.8,856.65 L993.8,856.76 L996.8,856.88 L999.8,856.99 L1002.8,857.11 L1005.8,857.22 L1008.8,857.33 L1011.8,857.44 L1014.8,857.54 L1017.8,857.65 L1020.8,857.75 L1023.8,857.86 L1026.8,857.96 L1029.8,858.06 L1032.8,858.16 L1035.8,858.26 L1038.8,858.35 L1041.8,858.45 L1044.8,858.54 L1047.8,858.64 L1050.8,858.73 L1053.8,858.82 L1056.8,858.91 L1059.8,859.00 L1062.8,859.09 L1065.8,859.17 L1068.8,859.26 L1071.8,859.34 L1074.8,859.43 L1077.8,859.51 L1080.8,859.59 L1083.8,859.67 L1086.8,859.75 L1089.8,859.83 L1092.8,859.91 L1095.8,859.98 L1098.8,860.06 L1101.8,860.13 L1104.8,860.21 L1107.8,860.28 L1110.8,860.35 L1113.8,860.42 L1116.8,860.49 L1119.8,860.56 L1122.8,860.63 L1125.8,860.70 L1128.8,860.77 L1131.8,860.83 L1134.8,860.90 L1137.8,860.96 L1140.8,861.02 L1143.8,861.09 L1146.8,861.15 L1149.8,861.21 L1152.8,861.27 L1155.8,861.33 L1158.8,861.39 L1161.8,861.45 L1164.8,861.50 L1167.8,861.56 L1170.8,861.62 L1173.8,861.67 L1176.8,861.73 L1179.8,861.78 L1182.8,861.83 L1185.8,861.89 L1188.8,861.94 L1191.8,861.99 L1194.8,862.04 L1197.8,862.09 L1200.8,862.14 L1203.8,862.19 L1206.8,862.24 L1209.8,862.28 L1212.8,862.33 L1215.8,862.38 L1218.8,862.42 L1221.8,862.47 L1224.8,862.51 L1227.8,862.55 L1230.8,862.60 L1233.8,862.64 L1236.8,862.68 L1239.8,862.72 L1242.8,862.77 L1245.8,862.81 L1248.8,862.85 L1251.8,862.89 L1254.8,862.93 L1257.8,862.96 L1260.8,863.00 L1263.8,863.04 L1266.8,863.08 L1269.8,863.11 L1272.8,863.15 L1275.8,863.18 L1278.8,863.22 L1281.8,863.25 L1284.8,863.29 L1287.8,863.32 L1290.8,863.36 L1293.8,863.39 L1296.8,863.42 L1299.8,863.45 L1302.8,863.48 L1305.8,863.51 L1308.8,863.55 L1311.8,863.58 L1314.8,863.61 L1317.8,863.64 L1320.8,863.66 L1323.8,863.69 L1326.8,863.72 L1329.8,863.75 L1332.8,863.78 L1335.8,863.80 L1338.8,863.83 L1341.8,863.86 L1344.8,863.88 L1347.8,863.91 L1350.8,863.93 L1353.8,863.96 L1356.8,863.98 L1359.8,864.01 L1362.8,864.03 L1365.8,864.05 L1368.8,864.08 L1371.8,864.10 L1374.8,864.12 L1377.8,864.14 L1380.8,864.17 L1383.8,864.19 L1386.8,864.21 L1389.8,864.23 L1392.8,864.25 L1395.8,864.27 L1398.8,864.29 L1401.8,864.31 L1404.8,864.33 L1407.8,864.35 L1410.8,864.37 L1413.8,864.39 L1416.8,864.41 L1419.8,864.42 L1422.8,864.44 L1425.8,864.46 L1428.8,864.48 L1431.8,864.49 L1434.8,864.51 L1437.8,864.53 L1440.8,864.54 L1443.8,864.56 L1446.8,864.57 L1449.8,864.59 L1452.8,864.60 L1455.8,864.62 L1458.8,864.63 L1461.8,864.65 L1464.8,864.66 L1467.8,864.68 L1470.8,864.69 L1473.8,864.70 L1476.8,864.72 L1479.8,864.73 L1482.8,864.74 L1485.8,864.76 L1488.8,864.77 L1491.8,864.78 L1494.8,864.79 L1497.8,864.80 L1500.8,864.82 L1503.8,864.83 L1506.8,864.84 L1509.8,864.85 L1512.8,864.86 L1515.8,864.87 L1518.8,864.88 L1521.8,864.89 L1524.8,864.90 L1527.8,864.91 L1530.8,864.92 L1533.8,864.93 L1536.8,864.94 L1539.8,864.95 L1542.8,864.96 L1545.8,864.97 L1548.8,864.98 L1551.8,864.99 L1554.8,865.00 L1557.8,865.01 L1560.8,865.01 L1563.8,865.02 L1566.8,865.03 L1569.8,865.04 L1572.8,865.05 L1575.8,865.05 L1578.8,865.06 L1581.8,865.07 L1584.8,865.08 L1587.8,865.08 L1589.0,865.08" stroke="#cc6a2c" stroke-width="6.8" stroke-linecap="round"/></g><text x="475.3" y="59" font-family='"Liberation Sans", sans-serif' font-size="44.6" text-anchor="start" textLength="137.0" lengthAdjust="spacingAndGlyphs" fill="#000" stroke="#000" stroke-width="0.35" >Annual</text><text x="623.7" y="59" font-family='"Liberation Sans", sans-serif' font-size="44.6" text-anchor="start" textLength="130.9" lengthAdjust="spacingAndGlyphs" fill="#000" stroke="#000" stroke-width="0.35" >Supply</text><text x="766" y="59" font-family='"Liberation Sans", sans-serif' font-size="44.6" text-anchor="start" textLength="145.3" lengthAdjust="spacingAndGlyphs" fill="#000" stroke="#000" stroke-width="0.35" >Growth</text><text x="926" y="59" font-family='"Liberation Sans", sans-serif' font-size="44.6" text-anchor="start" textLength="103.7" lengthAdjust="spacingAndGlyphs" fill="#000" stroke="#000" stroke-width="0.35" >Rates</text><text x="1042.5" y="59" font-family='"Liberation Sans", sans-serif' font-size="44.6" text-anchor="start" textLength="227.4" lengthAdjust="spacingAndGlyphs" fill="#000" stroke="#000" stroke-width="0.35" >(&quot;Inflation&quot;)</text><text x="314" y="182.2" font-family='"Liberation Sans", sans-serif' font-size="30" text-anchor="start" textLength="284" lengthAdjust="spacingAndGlyphs" fill="#000" stroke="#000" stroke-width="0.35" >Approx. Switch to PoS</text><text x="171.5" y="875.1" font-family='"Liberation Sans", sans-serif' font-size="29.3" text-anchor="end" textLength="44.9" lengthAdjust="spacingAndGlyphs" fill="#000" stroke="#000" stroke-width="0.35" >0 %</text><text x="171.5" y="799.0" font-family='"Liberation Sans", sans-serif' font-size="29.3" text-anchor="end" textLength="44.9" lengthAdjust="spacingAndGlyphs" fill="#000" stroke="#000" stroke-width="0.35" >1 %</text><text x="171.5" y="722.9" font-family='"Liberation Sans", sans-serif' font-size="29.3" text-anchor="end" textLength="44.9" lengthAdjust="spacingAndGlyphs" fill="#000" stroke="#000" stroke-width="0.35" >2 %</text><text x="171.5" y="646.7" font-family='"Liberation Sans", sans-serif' font-size="29.3" text-anchor="end" textLength="44.9" lengthAdjust="spacingAndGlyphs" fill="#000" stroke="#000" stroke-width="0.35" >3 %</text><text x="171.5" y="570.6" font-family='"Liberation Sans", sans-serif' font-size="29.3" text-anchor="end" textLength="44.9" lengthAdjust="spacingAndGlyphs" fill="#000" stroke="#000" stroke-width="0.35" >4 %</text><text x="171.5" y="494.5" font-family='"Liberation Sans", sans-serif' font-size="29.3" text-anchor="end" textLength="44.9" lengthAdjust="spacingAndGlyphs" fill="#000" stroke="#000" stroke-width="0.35" >5 %</text><text x="171.5" y="418.3" font-family='"Liberation Sans", sans-serif' font-size="29.3" text-anchor="end" textLength="44.9" lengthAdjust="spacingAndGlyphs" fill="#000" stroke="#000" stroke-width="0.35" >6 %</text><text x="171.5" y="342.2" font-family='"Liberation Sans", sans-serif' font-size="29.3" text-anchor="end" textLength="44.9" lengthAdjust="spacingAndGlyphs" fill="#000" stroke="#000" stroke-width="0.35" >7 %</text><text x="171.5" y="266.1" font-family='"Liberation Sans", sans-serif' font-size="29.3" text-anchor="end" textLength="44.9" lengthAdjust="spacingAndGlyphs" fill="#000" stroke="#000" stroke-width="0.35" >8 %</text><text x="171.5" y="190.0" font-family='"Liberation Sans", sans-serif' font-size="29.3" text-anchor="end" textLength="44.9" lengthAdjust="spacingAndGlyphs" fill="#000" stroke="#000" stroke-width="0.35" >9 %</text><text x="171.5" y="113.8" font-family='"Liberation Sans", sans-serif' font-size="29.3" text-anchor="end" textLength="59.8" lengthAdjust="spacingAndGlyphs" fill="#000" stroke="#000" stroke-width="0.35" >10 %</text><text x="202.0" y="916" font-family='"Liberation Sans", sans-serif' font-size="29.3" text-anchor="middle" fill="#000" stroke="#000" stroke-width="0.35" >0</text><text x="272.0" y="916" font-family='"Liberation Sans", sans-serif' font-size="29.3" text-anchor="middle" fill="#000" stroke="#000" stroke-width="0.35" >5</text><text x="342.0" y="916" font-family='"Liberation Sans", sans-serif' font-size="29.3" text-anchor="middle" fill="#000" stroke="#000" stroke-width="0.35" >10</text><text x="412.0" y="916" font-family='"Liberation Sans", sans-serif' font-size="29.3" text-anchor="middle" fill="#000" stroke="#000" stroke-width="0.35" >15</text><text x="481.9" y="916" font-family='"Liberation Sans", sans-serif' font-size="29.3" text-anchor="middle" fill="#000" stroke="#000" stroke-width="0.35" >20</text><text x="551.9" y="916" font-family='"Liberation Sans", sans-serif' font-size="29.3" text-anchor="middle" fill="#000" stroke="#000" stroke-width="0.35" >25</text><text x="621.9" y="916" font-family='"Liberation Sans", sans-serif' font-size="29.3" text-anchor="middle" fill="#000" stroke="#000" stroke-width="0.35" >30</text><text x="691.9" y="916" font-family='"Liberation Sans", sans-serif' font-size="29.3" text-anchor="middle" fill="#000" stroke="#000" stroke-width="0.35" >35</text><text x="761.9" y="916" font-family='"Liberation Sans", sans-serif' font-size="29.3" text-anchor="middle" fill="#000" stroke="#000" stroke-width="0.35" >40</text><text x="831.9" y="916" font-family='"Liberation Sans", sans-serif' font-size="29.3" text-anchor="middle" fill="#000" stroke="#000" stroke-width="0.35" >45</text><text x="901.9" y="916" font-family='"Liberation Sans", sans-serif' font-size="29.3" text-anchor="middle" fill="#000" stroke="#000" stroke-width="0.35" >50</text><text x="971.8" y="916" font-family='"Liberation Sans", sans-serif' font-size="29.3" text-anchor="middle" fill="#000" stroke="#000" stroke-width="0.35" >55</text><text x="1041.8" y="916" font-family='"Liberation Sans", sans-serif' font-size="29.3" text-anchor="middle" fill="#000" stroke="#000" stroke-width="0.35" >60</text><text x="1111.8" y="916" font-family='"Liberation Sans", sans-serif' font-size="29.3" text-anchor="middle" fill="#000" stroke="#000" stroke-width="0.35" >65</text><text x="1181.8" y="916" font-family='"Liberation Sans", sans-serif' font-size="29.3" text-anchor="middle" fill="#000" stroke="#000" stroke-width="0.35" >70</text><text x="1251.8" y="916" font-family='"Liberation Sans", sans-serif' font-size="29.3" text-anchor="middle" fill="#000" stroke="#000" stroke-width="0.35" >75</text><text x="1321.8" y="916" font-family='"Liberation Sans", sans-serif' font-size="29.3" text-anchor="middle" fill="#000" stroke="#000" stroke-width="0.35" >80</text><text x="1391.7" y="916" font-family='"Liberation Sans", sans-serif' font-size="29.3" text-anchor="middle" fill="#000" stroke="#000" stroke-width="0.35" >85</text><text x="1461.7" y="916" font-family='"Liberation Sans", sans-serif' font-size="29.3" text-anchor="middle" fill="#000" stroke="#000" stroke-width="0.35" >90</text><text x="1531.7" y="916" font-family='"Liberation Sans", sans-serif' font-size="29.3" text-anchor="middle" fill="#000" stroke="#000" stroke-width="0.35" >95</text><text x="1601.7" y="916" font-family='"Liberation Sans", sans-serif' font-size="29.3" text-anchor="middle" fill="#000" stroke="#000" stroke-width="0.35" >100</text><text x="756" y="989" font-family='"Liberation Sans", sans-serif' font-size="31.8" text-anchor="start" textLength="291" lengthAdjust="spacingAndGlyphs" fill="#000" stroke="#000" stroke-width="0.35" >Years Since Mainnet</text><g transform="translate(76,656.5) rotate(-90)"><text x="0" y="0" font-family='"Liberation Sans", sans-serif' font-size="32.5" text-anchor="start" textLength="323.5" lengthAdjust="spacingAndGlyphs" fill="#000" stroke="#000" stroke-width="0.35" >Annual Suuply Growth</text></g><rect x="738" y="236" width="814" height="287" fill="#fff" stroke="#a6a6a6" stroke-width="1.8"/><line x1="756.5" y1="271.3" x2="807.5" y2="271.3" stroke="#a0a0a0" stroke-width="4.6" stroke-linecap="round"/><line x1="756.7" y1="343" x2="806" y2="343" stroke="#4a8ddc" stroke-width="6" stroke-linecap="round" stroke-dasharray="0 12"/><line x1="756.5" y1="415.4" x2="807.7" y2="415.4" stroke="#4caf57" stroke-width="6.7" stroke-linecap="round"/><line x1="756.5" y1="487.2" x2="807.7" y2="487.2" stroke="#cc6a2c" stroke-width="6.7" stroke-linecap="round"/><text x="814" y="280.6" font-family='"Liberation Sans", sans-serif' font-size="30" text-anchor="start" textLength="279" lengthAdjust="spacingAndGlyphs" fill="#000" stroke="#000" stroke-width="0.35" >Current Supply (PoW)</text><text x="814" y="351.9" font-family='"Liberation Sans", sans-serif' font-size="30" text-anchor="start" textLength="212.5" lengthAdjust="spacingAndGlyphs" fill="#000" stroke="#000" stroke-width="0.35" >Blue Curve (PoS)</text><text x="813.5" y="423.7" font-family='"Liberation Sans", sans-serif' font-size="30" text-anchor="start" textLength="679.5" lengthAdjust="spacingAndGlyphs" fill="#000" stroke="#000" stroke-width="0.35" >A. Maintain Blue Curve Initial Absolute Reward (PoS)</text><text x="813.5" y="495.5" font-family='"Liberation Sans", sans-serif' font-size="30" text-anchor="start" textLength="721" lengthAdjust="spacingAndGlyphs" fill="#000" stroke="#000" stroke-width="0.35" >B. Maintain Blue Curve Initial Annual Growth Rate (PoS)</text></svg>
</body></html>
